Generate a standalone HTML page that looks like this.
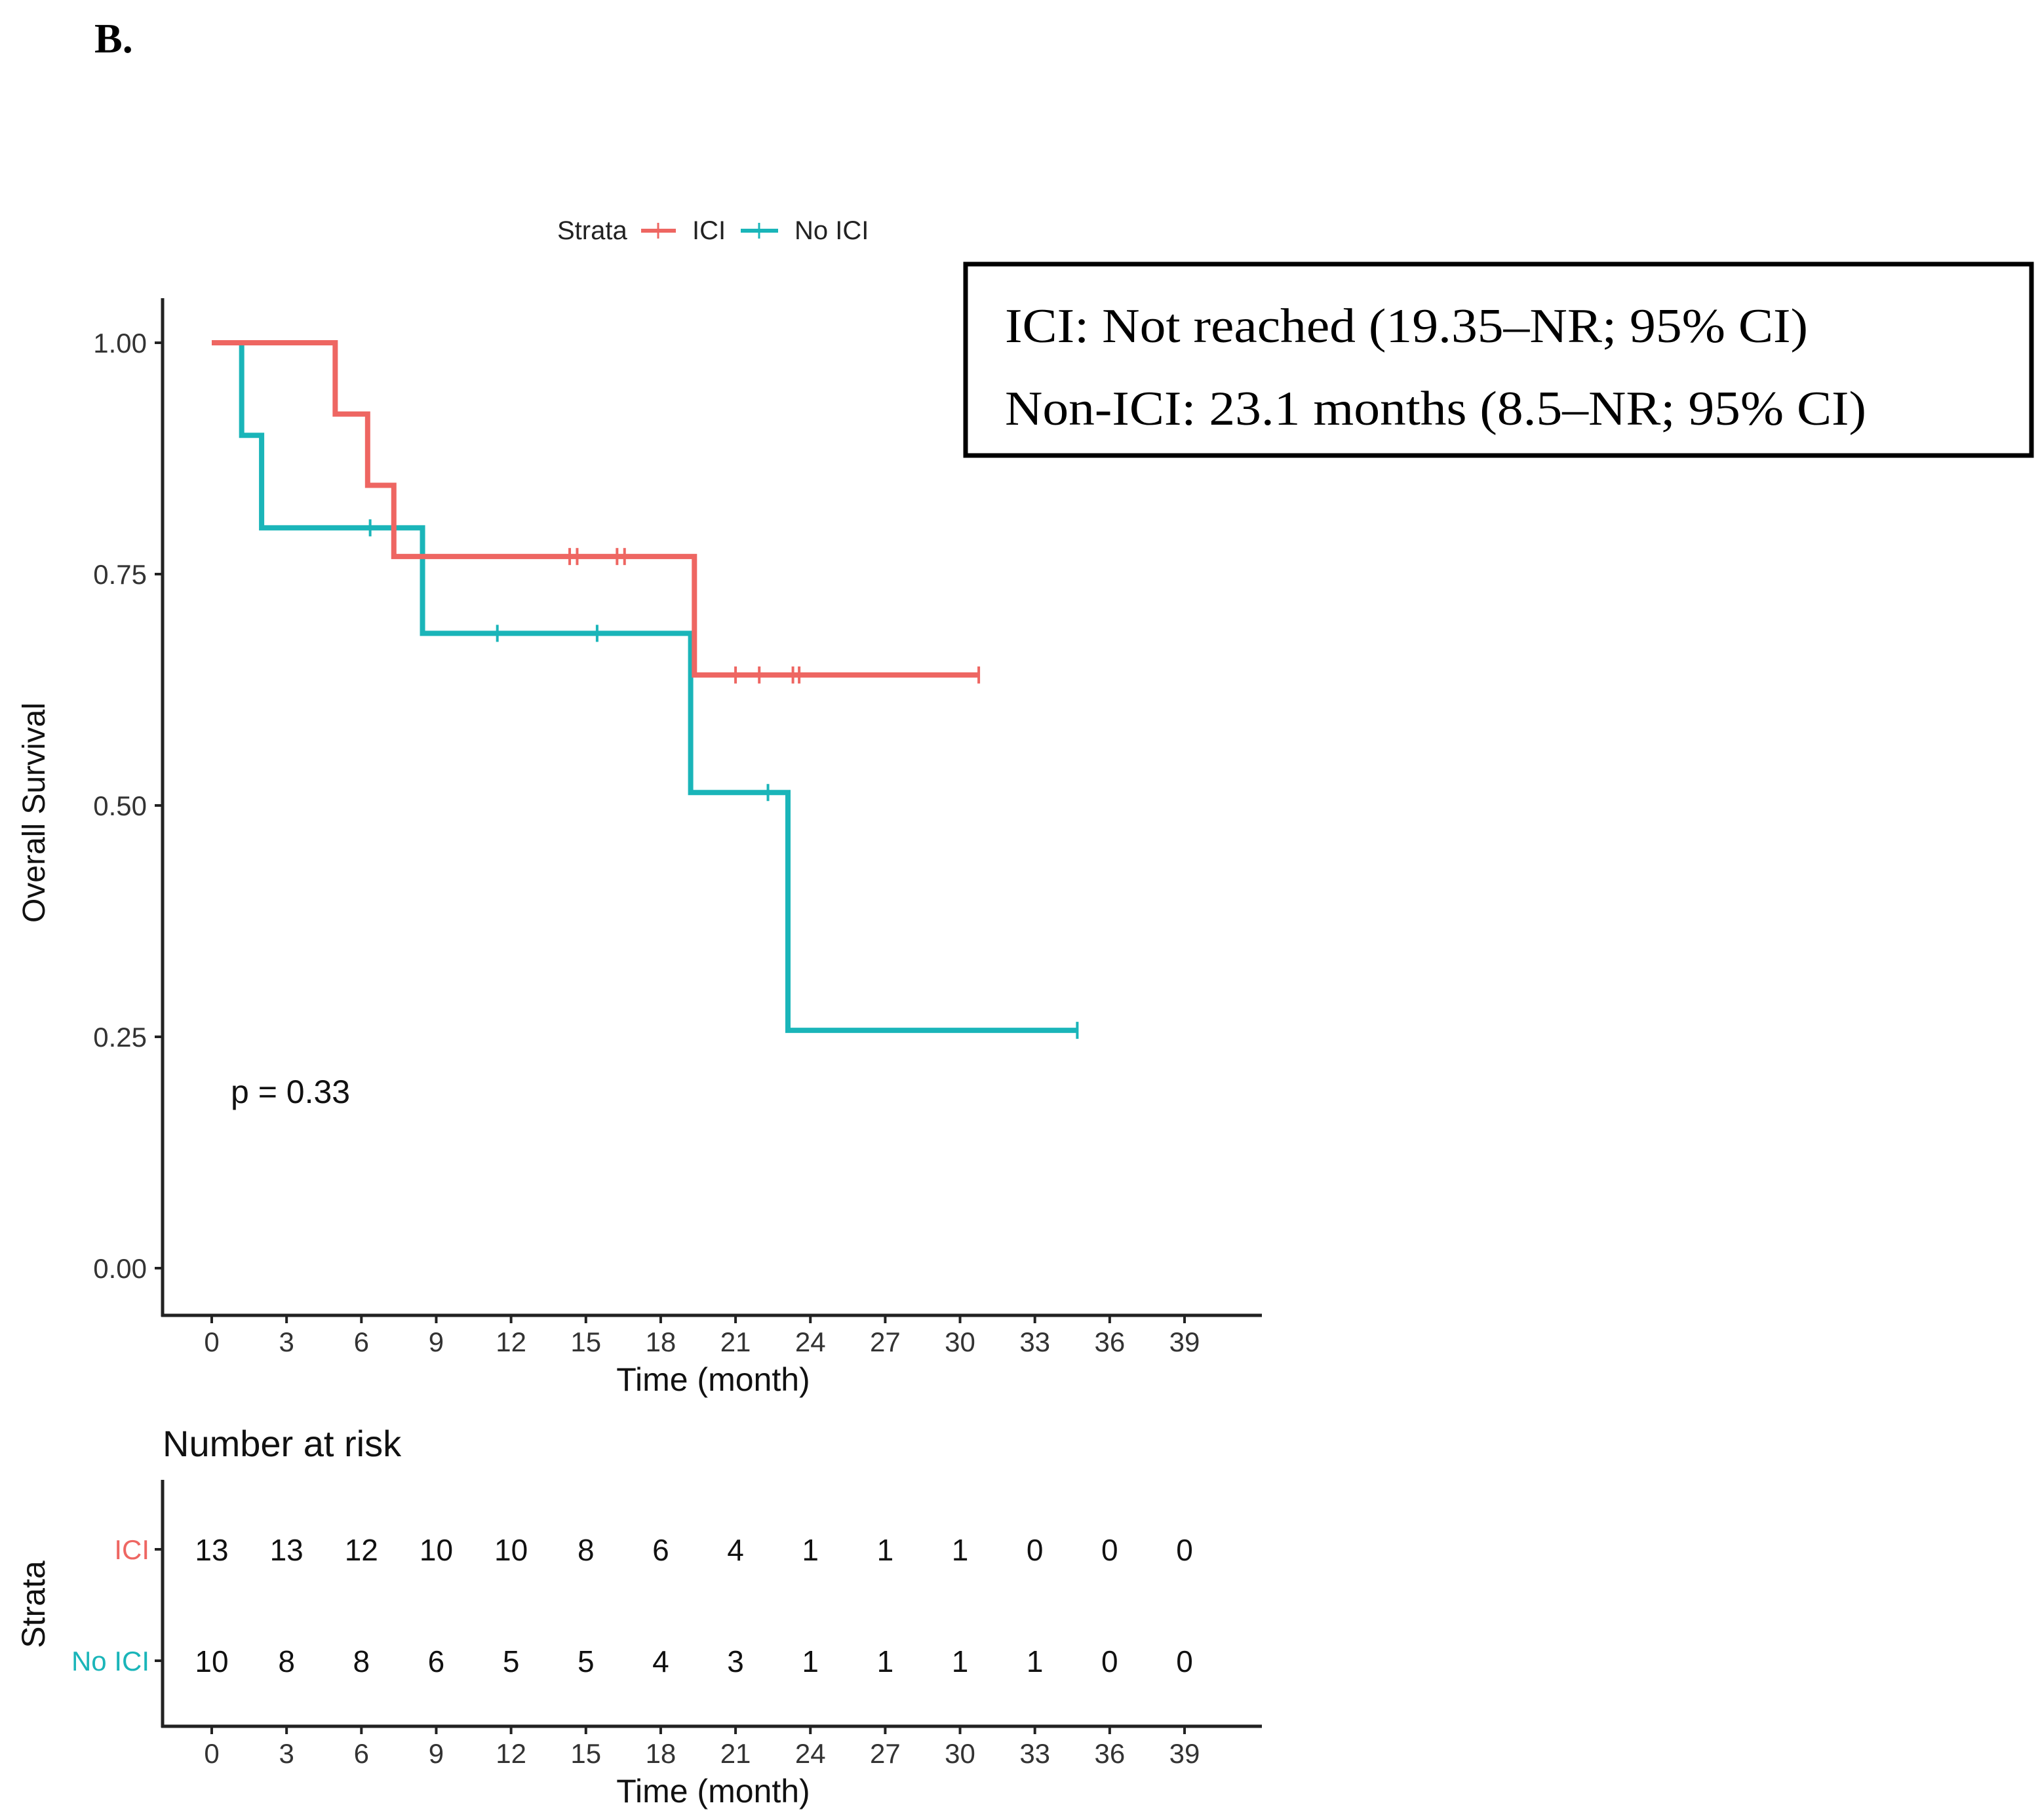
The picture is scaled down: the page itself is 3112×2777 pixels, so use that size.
<!DOCTYPE html>
<html><head><meta charset="utf-8"><style>
html,body{margin:0;padding:0;background:#fff;}
svg{display:block;font-family:"Liberation Sans",sans-serif;}
</style></head><body>
<svg id="chart" width="3112" height="2777" viewBox="0 0 3112 2777" xmlns="http://www.w3.org/2000/svg">
<text x="144" y="80" font-family="Liberation Serif,serif" font-weight="bold" font-size="64">B.</text>
<g>
<text x="850" y="365" font-size="40" fill="#222">Strata</text>
<g><line x1="978" y1="352" x2="1031" y2="352" stroke="#ee6662" stroke-width="6"/><line x1="1004" y1="340" x2="1004" y2="364" stroke="#ee6662" stroke-width="3"/><text x="1056" y="365" font-size="40" fill="#222">ICI</text></g>
<g><line x1="1130" y1="352" x2="1187" y2="352" stroke="#1ab5b9" stroke-width="6"/><line x1="1158" y1="340" x2="1158" y2="364" stroke="#1ab5b9" stroke-width="3"/><text x="1212" y="365" font-size="40" fill="#222">No ICI</text></g>
</g>
<g>
<rect x="1473" y="403" width="1626" height="292" fill="#fff" stroke="#000" stroke-width="7"/>
<text x="1533" y="522" font-family="Liberation Serif,serif" font-size="74" textLength="1225" lengthAdjust="spacingAndGlyphs">ICI: Not reached (19.35–NR; 95% CI)</text>
<text x="1533" y="648" font-family="Liberation Serif,serif" font-size="74" textLength="1314" lengthAdjust="spacingAndGlyphs">Non-ICI: 23.1 months (8.5–NR; 95% CI)</text>
</g>
<g id="plot"></g>
<g id="risk"></g>
</svg>
<script>
const xTicks=[0,3,6,9,12,15,18,21,24,27,30,33,36,39];
const yTicks=[0,0.25,0.5,0.75,1.0];
const yTickLabels=["0.00","0.25","0.50","0.75","1.00"];
const iciTimes=[0,4.95,6.25,7.3,19.35,30.8];
const iciSurv=[1,0.923,0.846,0.769,0.641,0.641];
const iciCensor=[14.35,14.65,16.25,16.55,21.0,21.95,23.3,23.55,30.75];
const noiciTimes=[0,1.2,2.0,8.45,19.2,23.1,34.7];
const noiciSurv=[1,0.9,0.8,0.686,0.514,0.257,0.257];
const noiciCensor=[6.35,11.45,15.45,22.3,34.7];
const riskGroups=["ICI","No ICI"];
const riskICI=[13,13,12,10,10,8,6,4,1,1,1,0,0,0];
const riskNoICI=[10,8,8,6,5,5,4,3,1,1,1,1,0,0];
const NS="http://www.w3.org/2000/svg";
const X=t=>323+t*(1807-323)/39;
const Y=s=>1935-s*(1935-523);
const RED="#ee6662",CYAN="#1ab5b9";
function mk(tag,attrs,parent,txt){const e=document.createElementNS(NS,tag);for(const k in attrs)e.setAttribute(k,attrs[k]);if(txt!==undefined)e.textContent=txt;parent.appendChild(e);return e;}
const plot=document.getElementById('plot');
const ax=mk('g',{},plot);


mk('line',{x1:248,y1:455,x2:248,y2:2009,stroke:'#222','stroke-width':5},ax);
mk('line',{x1:246,y1:2007,x2:1925,y2:2007,stroke:'#222','stroke-width':5},ax);
yTicks.forEach((v,i)=>{const y=Y(v);mk('line',{x1:236,y1:y,x2:248,y2:y,stroke:'#222','stroke-width':4},ax);
const t=mk('text',{x:224,y:y+15,'text-anchor':'end','font-size':42,fill:'#333'},ax,yTickLabels[i]);

});
xTicks.forEach(v=>{const x=X(v);mk('line',{x1:x,y1:2007,x2:x,y2:2019,stroke:'#222','stroke-width':4},ax);
const t=mk('text',{x:x,y:2062,'text-anchor':'middle','font-size':42,fill:'#333'},ax,String(v));

});
const xt=mk('text',{x:1088,y:2122,'text-anchor':'middle','font-size':50,fill:'#111'},ax,'Time (month)');


const yt=mk('text',{x:0,y:0,'text-anchor':'middle','font-size':48,fill:'#111',transform:'translate(68,1240) rotate(-90)'},ax,'Overall Survival');


const pv=mk('text',{x:352,y:1683,'font-size':50,fill:'#111'},ax,'p = 0.33');


function curve(times,surv,cens,color,name){
 let d='M'+X(times[0])+','+Y(surv[0]);
 for(let i=1;i<times.length;i++){d+=' H'+X(times[i])+' V'+Y(surv[i]);}
 const p=mk('path',{d:d,fill:'none',stroke:color,'stroke-width':8},plot);
 
 
 cens.forEach(c=>{let s=surv[0];for(let i=0;i<times.length;i++){if(times[i]<=c)s=surv[i];}
  const m=mk('line',{x1:X(c),y1:Y(s)-13,x2:X(c),y2:Y(s)+13,stroke:color,'stroke-width':4},plot);
  
  });
}
curve(noiciTimes,noiciSurv,noiciCensor,CYAN,'no-ici');
curve(iciTimes,iciSurv,iciCensor,RED,'ici');
const risk=document.getElementById('risk');
const rt=mk('text',{x:248,y:2222,'font-size':56,fill:'#111'},risk,'Number at risk');


mk('line',{x1:248,y1:2258,x2:248,y2:2636,stroke:'#222','stroke-width':5},risk);
mk('line',{x1:246,y1:2634,x2:1925,y2:2634,stroke:'#222','stroke-width':5},risk);
const rowY=[2364,2534],rowCol=[RED,CYAN],rowData=[riskICI,riskNoICI];
riskGroups.forEach((g,r)=>{
 mk('line',{x1:236,y1:rowY[r],x2:248,y2:rowY[r],stroke:'#222','stroke-width':4},risk);
 const l=mk('text',{x:228,y:rowY[r]+15,'text-anchor':'end','font-size':42,fill:rowCol[r]},risk,g);
 
 
 rowData[r].forEach((n,i)=>{const t=mk('text',{x:X(xTicks[i]),y:rowY[r]+17,'text-anchor':'middle','font-size':46,fill:'#111'},risk,String(n));
 
 });
});
xTicks.forEach(v=>{const x=X(v);mk('line',{x1:x,y1:2634,x2:x,y2:2646,stroke:'#222','stroke-width':4},risk);
const t=mk('text',{x:x,y:2690,'text-anchor':'middle','font-size':42,fill:'#333'},risk,String(v));

});
const rx=mk('text',{x:1088,y:2750,'text-anchor':'middle','font-size':50,fill:'#111'},risk,'Time (month)');


const ry=mk('text',{x:0,y:0,'text-anchor':'middle','font-size':50,fill:'#111',transform:'translate(68,2448) rotate(-90)'},risk,'Strata');


</script>
</body></html>
